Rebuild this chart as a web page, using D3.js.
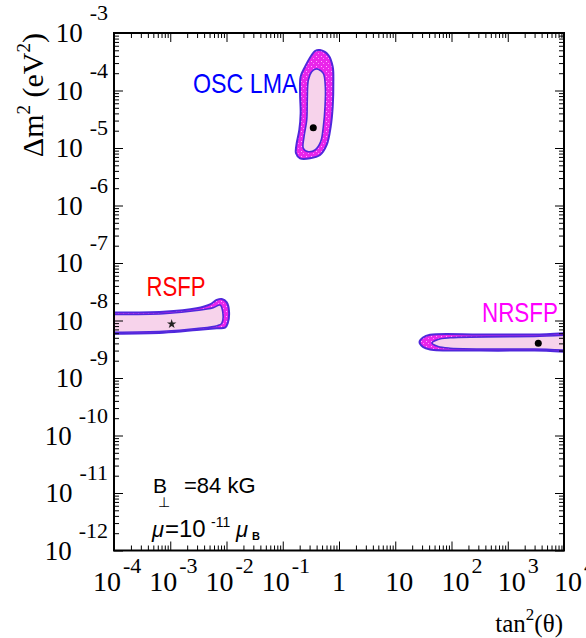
<!DOCTYPE html>
<html><head><meta charset="utf-8">
<script src="https://cdn.jsdelivr.net/npm/d3@7"></script>
<style>html,body{margin:0;padding:0;background:#fff;} svg{display:block;}</style>
</head><body>
<svg id="c" width="586" height="638"></svg>
<script>
// ---------- data ----------
const xDecades = [-4, -3, -2, -1, 0, 1, 2, 3, 4];
const yDecades = [-12, -11, -10, -9, -8, -7, -6, -5, -4, -3];
const xTickLabels = [["10","-4"],["10","-3"],["10","-2"],["10","-1"],["1",""],["10",""],["10","2"],["10","3"],["10","4"]];
const yTickLabels = [["10","-12"],["10","-11"],["10","-10"],["10","-9"],["10","-8"],["10","-7"],["10","-6"],["10","-5"],["10","-4"],["10","-3"]];

// contours: [tan^2(theta), dm^2 (eV^2)]
const oscOuter = [[0.459,5.06e-4],[0.646,4.14e-4],[0.773,2.59e-4],[0.793,1.33e-4],[0.773,5.22e-5],[0.711,2.34e-5],[0.604,1.13e-5],[0.459,7.55e-6],[0.305,6.62e-6],[0.203,6.62e-6],[0.172,8.09e-6],[0.177,1.21e-5],[0.197,2.06e-5],[0.208,4.01e-5],[0.203,8.93e-5],[0.208,1.74e-4],[0.249,2.59e-4],[0.327,4.14e-4],[0.374,4.86e-4]];
const oscInner = [[0.429,2.34e-4],[0.526,1.99e-4],[0.571,1.16e-4],[0.564,5.22e-5],[0.526,2.34e-5],[0.473,1.29e-5],[0.374,9.23e-6],[0.285,8.63e-6],[0.232,9.89e-6],[0.239,1.57e-5],[0.267,3.07e-5],[0.273,6.84e-5],[0.285,1.52e-4],[0.327,2.12e-4],[0.390,2.37e-4]];
const oscBest = [0.349, 2.25e-5];

const rsfpOuter = [[1e-7,1.37e-8],[2.5e-5,1.38e-8],[7.52e-4,1.42e-8],[2.95e-3,1.63e-8],[5.09e-3,1.91e-8],[6.70e-3,2.28e-8],[8.22e-3,2.37e-8],[1.01e-2,2.07e-8],[1.11e-2,1.42e-8],[1.05e-2,8.93e-9],[9.40e-3,7.50e-9],[6.70e-3,7.32e-9],[2.95e-3,6.84e-9],[7.52e-4,6.14e-9],[2.5e-5,5.82e-9],[1e-7,5.8e-9]];
const rsfpInner = [[1e-7,1.26e-8],[2.5e-5,1.27e-8],[7.52e-4,1.31e-8],[2.95e-3,1.49e-8],[5.82e-3,1.67e-8],[7.66e-3,1.86e-8],[8.56e-3,1.42e-8],[8.22e-3,8.93e-9],[6.86e-3,8.13e-9],[2.95e-3,7.26e-9],[7.52e-4,6.52e-9],[2.5e-5,6.18e-9],[1e-7,6.16e-9]];
const rsfpBest = [1.06e-3, 8.69e-9];

const nrsfpOuter = [[27.0,4.23e-9],[31.1,5.06e-9],[41.5,5.64e-9],[321,5.71e-9],[3.0e3,5.71e-9],[1e6,5.71e-9],[1e6,3.0e-9],[3.0e3,3.0e-9],[321,3.0e-9],[41.5,3.12e-9],[31.1,3.46e-9]];
const nrsfpInner = [[45.0,4.06e-9],[57.5,4.68e-9],[94.1,5.0e-9],[3.0e3,5.27e-9],[1e6,5.27e-9],[1e6,3.19e-9],[3.0e3,3.19e-9],[94.1,3.3e-9],[57.5,3.53e-9]];
const nrsfpBest = [3.49e3, 4.01e-9];

// ---------- drawing ----------
const L = 114, R = 564, T = 33, B = 550.5;
const svg = d3.select("#c");
const x = d3.scaleLog().domain([1e-4, 1e4]).range([L, R]);
const y = d3.scaleLog().domain([1e-12, 1e-3]).range([B, T]);

const defs = svg.append("defs");
defs.append("clipPath").attr("id","clip").append("rect")
  .attr("x",L).attr("y",T).attr("width",R-L).attr("height",B-T);
const pat = defs.append("pattern").attr("id","mag").attr("patternUnits","userSpaceOnUse")
  .attr("width",5).attr("height",5);
pat.append("rect").attr("width",5).attr("height",5).attr("fill","#ea26ea");
pat.append("rect").attr("x",1).attr("y",1).attr("width",1).attr("height",1).attr("fill","#ffb0ff");
pat.append("rect").attr("x",3).attr("y",3).attr("width",1).attr("height",1).attr("fill","#ff8cff");

const OUTLINE = "#5028dc";
const PINK = "#f7d3eb";
const line = d3.line().x(d => x(d[0])).y(d => y(d[1])).curve(d3.curveCatmullRomClosed.alpha(0.5));

const gp = svg.append("g").attr("clip-path","url(#clip)");
[[oscOuter, oscInner],[rsfpOuter, rsfpInner],[nrsfpOuter, nrsfpInner]].forEach(([o, i]) => {
  gp.append("path").attr("d", line(o)).attr("fill","url(#mag)").attr("stroke",OUTLINE).attr("stroke-width",2);
  gp.append("path").attr("d", line(i)).attr("fill",PINK).attr("stroke",OUTLINE).attr("stroke-width",1.6);
});
gp.append("circle").attr("cx",x(oscBest[0])).attr("cy",y(oscBest[1])).attr("r",3.5).attr("fill","#000");
gp.append("circle").attr("cx",x(nrsfpBest[0])).attr("cy",y(nrsfpBest[1])).attr("r",3.5).attr("fill","#000");
gp.append("path").attr("d", d3.symbol(d3.symbolStar, 28)())
  .attr("transform",`translate(${x(rsfpBest[0])},${y(rsfpBest[1])})`).attr("fill","#222");

// axes ticks (inside, all four sides)
function minors(lo, hi){ const out=[]; for(let e=lo;e<hi;e++) for(let k=2;k<=9;k++) out.push(k*Math.pow(10,e)); return out; }
const xMajor = xDecades.map(e => Math.pow(10,e)), xMinor = minors(-4,4);
const yMajor = yDecades.map(e => Math.pow(10,e)), yMinor = minors(-12,-3);
function ax(fn, sc, vals, size, tr){
  const g = svg.append("g").attr("transform",tr)
    .call(fn(sc).tickValues(vals).tickSize(size).tickSizeOuter(0).tickFormat(""));
  g.select(".domain").remove();
  g.selectAll("line").attr("stroke","#000").attr("stroke-width",1);
}
ax(d3.axisBottom, x, xMajor, -9, `translate(0,${B})`);
ax(d3.axisBottom, x, xMinor, -5, `translate(0,${B})`);
ax(d3.axisTop, x, xMajor, -9, `translate(0,${T})`);
ax(d3.axisTop, x, xMinor, -5, `translate(0,${T})`);
ax(d3.axisLeft, y, yMajor, -9, `translate(${L},0)`);
ax(d3.axisLeft, y, yMinor, -5, `translate(${L},0)`);
ax(d3.axisRight, y, yMajor, -9, `translate(${R},0)`);
ax(d3.axisRight, y, yMinor, -5, `translate(${R},0)`);

svg.append("rect").attr("x",L).attr("y",T).attr("width",R-L).attr("height",B-T)
  .attr("fill","none").attr("stroke","#000").attr("stroke-width",2);

// tick labels
const SERIF = "'Liberation Serif','Times New Roman',serif";
xDecades.forEach((e, i) => {
  const tx = x(Math.pow(10, e));
  const [base, sup] = xTickLabels[i];
  const cx = e < 0 ? tx - 7 : (e > 0 ? tx + 4 : tx);
  const t = svg.append("text").attr("x",cx).attr("y",591).attr("text-anchor","middle")
    .attr("font-family",SERIF).attr("font-size",28).text(base);
  if (sup) {
    const w = t.node().getComputedTextLength();
    svg.append("text").attr("x",cx + w / 2 + 2).attr("y",573)
      .attr("font-family",SERIF).attr("font-size",22).text(sup);
  }
});
yDecades.forEach((e, i) => {
  const ty = y(Math.pow(10, e));
  const [base, sup] = yTickLabels[i];
  const t = svg.append("text").attr("x",108).attr("y",ty + 9).attr("text-anchor","end")
    .attr("font-family",SERIF).attr("font-size",27);
  t.append("tspan").text(base);
  t.append("tspan").attr("dx",7).attr("dy",-22).attr("font-size",22).text(sup);
});

// axis titles
const yt = svg.append("text").attr("transform","translate(43,33) rotate(-90)")
  .attr("text-anchor","end").attr("font-family",SERIF).attr("font-size",30);
yt.append("tspan").text("\u0394m");
yt.append("tspan").attr("dy",-13).attr("font-size",19).text("2");
yt.append("tspan").attr("dy",13).text(" (eV");
yt.append("tspan").attr("dy",-13).attr("font-size",19).text("2");
yt.append("tspan").attr("dy",13).text(")");

const xt = svg.append("text").attr("x",563).attr("y",632).attr("text-anchor","end")
  .attr("font-family",SERIF).attr("font-size",25);
xt.append("tspan").text("tan");
xt.append("tspan").attr("dy",-12).attr("font-size",17).text("2");
xt.append("tspan").attr("dy",12).text("(\u03b8)");

// annotations
const SANS = "'Liberation Sans',Arial,sans-serif";
function lab(txt, px, py, col, sx){
  svg.append("g").attr("transform",`translate(${px},${py}) scale(${sx},1)`)
    .append("text").attr("font-family",SANS).attr("font-size",27).attr("fill",col).text(txt);
}
lab("OSC LMA", 193, 93, "#0000ff", 0.86);
lab("RSFP", 146.5, 296, "#ff0000", 0.82);
lab("NRSFP", 482, 322, "#ff00ff", 0.83);

function tx(txt, px, py, size, extra){
  const t = svg.append("text").attr("x",px).attr("y",py).attr("font-family",SANS).attr("font-size",size).text(txt);
  if (extra) extra(t);
  return t;
}
tx("B", 153, 493, 21);
tx("\u22a5", 158, 507, 14, t => t.attr("font-family","'DejaVu Sans',sans-serif"));
tx("=84 kG", 184, 493, 22);
tx("\u03bc", 152, 537, 22, t => t.attr("font-style","italic"));
tx("=10", 165, 537, 24);
tx("-11", 211, 527, 14);
tx("\u03bc", 236, 537, 22, t => t.attr("font-style","italic"));
tx("B", 252, 540, 11, t => t.attr("font-weight","bold"));
</script>
</body></html>
